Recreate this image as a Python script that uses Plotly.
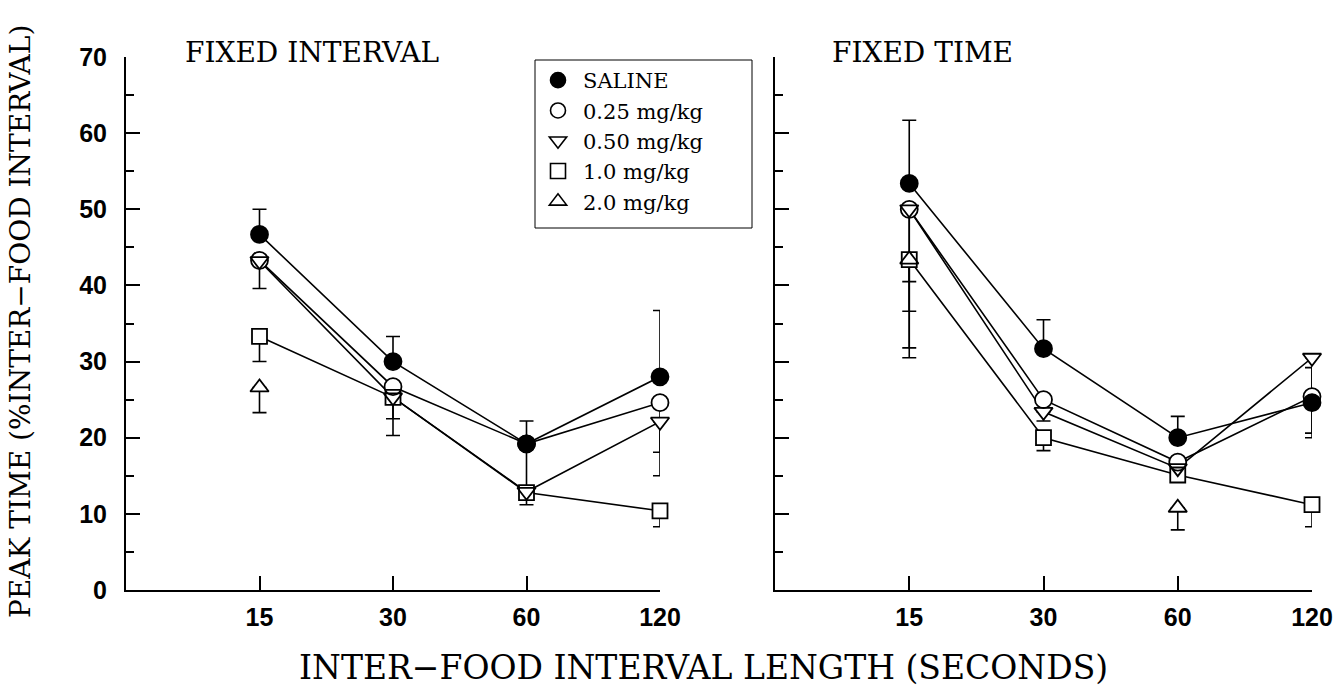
import plotly.graph_objects as go

# ---------------- data ----------------
intervals = ["15", "30", "60", "120"]
series_names = ["SALINE", "0.25 mg/kg", "0.50 mg/kg", "1.0 mg/kg", "2.0 mg/kg"]

# Fixed interval panel (values, upper error, lower error)
fi_saline = [46.7, 30.0, 19.2, 28.0]
fi_saline_up = [3.3, 3.3, 3.0, 8.7]
fi_025 = [43.3, 26.7, 19.2, 24.6]
fi_025_dn = [0, 0, 6.3, 9.6]
fi_050 = [43.2, 25.3, 12.9, 22.1]
fi_050_dn = [3.6, 2.8, 0, 4.0]
fi_100 = [33.3, 25.3, 12.8, 10.4]
fi_100_dn = [3.3, 5.0, 1.6, 2.1]
fi_200 = [26.6, None, None, None]
fi_200_dn = [3.3, 0, 0, 0]

# Fixed time panel
ft_saline = [53.4, 31.7, 20.0, 24.6]
ft_saline_up = [8.3, 3.8, 2.8, 4.6]
ft_025 = [50.0, 25.0, 16.8, 25.4]
ft_025_dn = [13.4, 0, 0, 4.8]
ft_050 = [50.0, 23.4, 16.0, 30.5]
ft_050_dn = [9.5, 1.2, 0, 10.5]
ft_100 = [43.4, 20.0, 15.1, 11.2]
ft_100_dn = [11.6, 1.7, 0.5, 2.9]
ft_200 = [43.4, None, 10.8, None]
ft_200_dn = [12.9, 0, 2.9, 0]

y_ticks = [0, 10, 20, 30, 40, 50, 60, 70]

# ---------------- styling ----------------
symbols = ["circle", "circle-open", "triangle-down-open", "square-open", "triangle-up-open"]
solid = ["circle", "circle", "triangle-down", "square", "triangle-up"]
sizes = [17, 17, 16, 15, 16]
SERIF = "DejaVu Serif"
SANS = "Liberation Sans"

panels = [
    ("x", "y", [fi_saline, fi_025, fi_050, fi_100, fi_200],
     [fi_saline_up, None, None, None, None],
     [None, fi_025_dn, fi_050_dn, fi_100_dn, fi_200_dn]),
    ("x2", "y2", [ft_saline, ft_025, ft_050, ft_100, ft_200],
     [ft_saline_up, None, None, None, None],
     [None, ft_025_dn, ft_050_dn, ft_100_dn, ft_200_dn]),
]

fig = go.Figure()

# layer 1: lines + error bars
for xa, ya, vals, ups, dns in panels:
    for i, v in enumerate(vals):
        up = ups[i] if ups[i] is not None else [0] * len(v)
        dn = dns[i] if dns[i] is not None else [0] * len(v)
        fig.add_trace(go.Scatter(
            x=intervals, y=v, xaxis=xa, yaxis=ya, mode="lines",
            line=dict(color="black", width=1.6),
            error_y=dict(type="data", symmetric=False, array=up, arrayminus=dn,
                         color="black", thickness=1.6, width=7),
            showlegend=False, cliponaxis=False, hoverinfo="skip"))

# layer 2: white fills (hide lines inside markers)
for xa, ya, vals, ups, dns in panels:
    for i, v in enumerate(vals):
        if i == 0:
            continue
        fig.add_trace(go.Scatter(
            x=intervals, y=v, xaxis=xa, yaxis=ya, mode="markers",
            marker=dict(symbol=solid[i], size=sizes[i], color="white"),
            showlegend=False, cliponaxis=False, hoverinfo="skip"))

# layer 3: marker outlines
for xa, ya, vals, ups, dns in panels:
    for i, v in enumerate(vals):
        fig.add_trace(go.Scatter(
            x=intervals, y=v, xaxis=xa, yaxis=ya, mode="markers",
            marker=dict(symbol=symbols[i], size=sizes[i], color="black",
                        line=dict(color="black", width=1.8)),
            showlegend=False, cliponaxis=False, name=series_names[i]))

# legend entries
for i, name in enumerate(series_names):
    fig.add_trace(go.Scatter(
        x=[None], y=[None], mode="markers", name=name,
        marker=dict(symbol=symbols[i], size=15, color="black",
                    line=dict(color="black", width=1.6)),
        showlegend=True))

W, H = 1343, 688
def px_x(p):
    return p / W
def px_y(p):
    return 1 - p / H

tick_font = dict(family=SANS, size=25, color="black", weight="bold")
xaxis_common = dict(
    type="category", range=[-1, 3], tickvals=intervals, ticktext=intervals,
    showline=True, linecolor="black", linewidth=2, ticks="inside", ticklen=14,
    tickwidth=2, tickcolor="black", showgrid=False, zeroline=False,
    tickfont=tick_font, ticklabelstandoff=4, automargin=False)
yaxis_common = dict(
    range=[0, 70], tickvals=y_ticks, showline=True, linecolor="black", linewidth=2,
    ticks="inside", ticklen=14, tickwidth=2, tickcolor="black",
    minor=dict(dtick=5, ticks="inside", ticklen=8, tickwidth=2, tickcolor="black"),
    showgrid=False, zeroline=False,
    tickfont=tick_font, ticklabelstandoff=12, automargin=False)

fig.update_layout(
    width=W, height=H, margin=dict(l=0, r=0, t=0, b=0, autoexpand=False),
    paper_bgcolor="white", plot_bgcolor="white",
    xaxis=dict(domain=[px_x(126), px_x(660)], anchor="y", **xaxis_common),
    xaxis2=dict(domain=[px_x(775), px_x(1312)], anchor="y2", **xaxis_common),
    yaxis=dict(domain=[px_y(590), px_y(57)], anchor="x", **yaxis_common),
    yaxis2=dict(domain=[px_y(590), px_y(57)], anchor="x2", showticklabels=False,
                **yaxis_common),
    legend=dict(x=px_x(533), y=px_y(60), xanchor="left", yanchor="top",
                borderwidth=0, bgcolor="rgba(0,0,0,0)",
                font=dict(family=SERIF, size=21, color="black"),
                itemwidth=40, tracegroupgap=0),
    showlegend=True,
    shapes=[dict(type="rect", xref="paper", yref="paper",
                 x0=px_x(535), x1=px_x(752), y0=px_y(228), y1=px_y(60),
                 line=dict(color="black", width=1), fillcolor="rgba(0,0,0,0)",
                 layer="above")],
)

fig.add_annotation(text="FIXED INTERVAL", xref="paper", yref="paper",
                   x=px_x(183), y=px_y(52), xanchor="left", yanchor="middle",
                   showarrow=False, font=dict(family=SERIF, size=28, color="black"))
fig.add_annotation(text="FIXED TIME", xref="paper", yref="paper",
                   x=px_x(830), y=px_y(52), xanchor="left", yanchor="middle",
                   showarrow=False, font=dict(family=SERIF, size=28, color="black"))
fig.add_annotation(text="INTER−FOOD INTERVAL LENGTH (SECONDS)", xref="paper", yref="paper",
                   x=px_x(703), y=px_y(667), xanchor="center", yanchor="middle",
                   showarrow=False, font=dict(family=SERIF, size=33, color="black"))
fig.add_annotation(text="PEAK TIME (%INTER−FOOD INTERVAL)", xref="paper", yref="paper",
                   x=px_x(21), y=px_y(322), xanchor="center", yanchor="middle",
                   textangle=-90, showarrow=False,
                   font=dict(family=SERIF, size=28, color="black"))

fig.write_html("out.html", config={"displayModeBar": False},
               post_script="document.body.style.margin='0';document.body.style.overflow='hidden';")
